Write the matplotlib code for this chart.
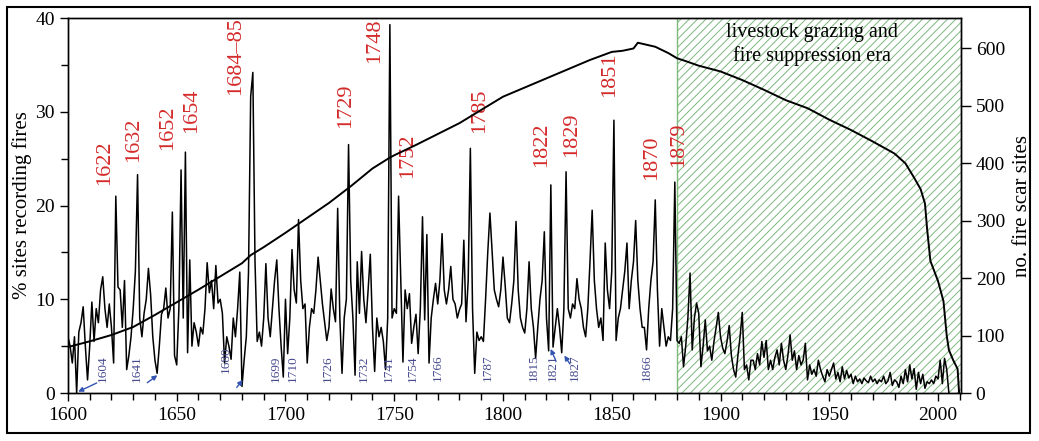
"""Fire history chart: % of sites recording fires and sample depth, 1600-2005."""

import matplotlib

matplotlib.use("Agg")
import matplotlib.pyplot as plt
import numpy as np
from matplotlib.patches import Rectangle
from matplotlib.ticker import MultipleLocator

# --- data ------------------------------------------------------------------
years = np.arange(1600, 2006)

fire_pct = [
    6, 5, 3.2, 6, 0, 6.5, 7.5, 9.2, 5, 1.4,             # 1600s
    5, 9.7, 5.5, 9, 7.5, 11, 12.4, 9, 7, 9.5,           # 1610s
    7, 3.2, 21, 11.3, 11, 7, 12, 2.5, 4, 6,             # 1620s
    9, 13, 23.3, 8, 6, 8.5, 10, 13.3, 10.5, 6,          # 1630s
    3.5, 2.1, 5, 8.4, 9, 11.2, 8, 9, 19.3, 4,           # 1640s
    3, 9, 23.8, 8, 25.7, 4.3, 14.2, 5, 7.5, 6.5,        # 1650s
    5, 7, 6.3, 9, 13.9, 10.7, 12, 9, 13.6, 9.6,         # 1660s
    10, 8.5, 3.2, 6, 5, 3.6, 8, 6, 9, 12.9,             # 1670s
    0.7, 3.5, 6, 12.8, 31.6, 34.2, 14, 5.5, 6.5, 5,     # 1680s
    8, 13.8, 8, 6, 9, 12, 14.2, 9, 5, 1.7,              # 1690s
    10, 4.2, 8, 15.3, 11, 9.6, 18.5, 12, 9, 9.5,        # 1700s
    3.2, 7, 9, 8.5, 11, 14.5, 12, 9.5, 7.5, 5.6,        # 1710s
    7, 11.1, 9, 7.6, 19.7, 8, 2.1, 8, 10, 26.5,         # 1720s
    12, 8, 1.9, 14, 8.5, 15.1, 10, 7.5, 11, 14.8,       # 1730s
    7, 2.3, 8, 6, 7, 5.5, 2.5, 8, 39.3, 8,              # 1740s
    9, 8.5, 21, 12, 3.3, 11, 9, 10.6, 5.3, 7,           # 1750s
    8.4, 4.2, 9, 18.8, 7.8, 16.9, 3.2, 8, 10, 11.7,     # 1760s
    9.5, 12, 17, 11, 9.5, 11, 13.5, 10, 9.5, 8,         # 1770s
    8.9, 9.5, 16.3, 7.6, 12, 26.1, 9, 2.1, 6.5, 5.6,    # 1780s
    6, 5.5, 10, 15, 19.2, 15, 11, 10, 9.2, 11,          # 1790s
    14.5, 11.5, 8, 7.5, 9.5, 12, 18.3, 11, 8, 7,        # 1800s
    6.4, 9, 14, 9, 7, 3.7, 7, 10, 12, 17.2,             # 1810s
    8, 4.5, 22.2, 4.9, 7, 9, 7, 4.3, 9, 23.6,           # 1820s
    9, 8, 9.5, 9, 12.2, 10, 9, 7, 6, 9,                 # 1830s
    14, 19.5, 12, 9, 7, 8, 5.6, 16, 11, 9,              # 1840s
    13, 29.1, 5.6, 8, 9, 11, 13, 16, 9, 12,             # 1850s
    14, 18.4, 12, 9, 7, 7, 4.6, 9, 12, 14,              # 1860s
    20.6, 11, 5, 9, 7, 5, 6, 5.6, 9, 22.5,              # 1870s
    5.6, 5.3, 6, 2.8, 5, 8, 12.8, 4.6, 8, 9.6,          # 1880s
    8.5, 2.8, 5, 7.8, 4.5, 5, 3.5, 5.5, 7, 8.6,         # 1890s
    6, 4.8, 4.2, 5.5, 7.2, 4, 2.5, 1.7, 4, 6,           # 1900s
    8.6, 2.5, 3, 1.4, 3.5, 3.5, 2.5, 4.2, 3, 5.5,       # 1910s
    3.8, 5.6, 2.5, 3.5, 2.5, 3.8, 4.6, 3, 5.3, 3.5,     # 1920s
    2.5, 4, 6.2, 3.5, 4.5, 2.5, 4, 3, 3.5, 5.3,         # 1930s
    1.4, 3, 2, 2.5, 1.8, 3.5, 2.5, 1.8, 1.2, 2.5,       # 1940s
    1.8, 2.5, 3.2, 1.5, 2.2, 1.2, 2.8, 1.5, 2.4, 1.6,   # 1950s
    2, 1, 1.8, 1.2, 1.5, 1, 1.6, 1.3, 1.1, 1.8,         # 1960s
    1.2, 1.5, 1, 1.4, 1.2, 1.8, 1, 1.3, 2.2, 0.8,       # 1970s
    1.4, 1.2, 0.6, 1.8, 1, 2.5, 1.2, 3, 1.5, 2.6,       # 1980s
    0.4, 2.2, 1, 2, 0.5, 1.2, 1, 1.4, 1, 1.8,           # 1990s
    1.5, 3.5, 1, 3.7, 2.5, 0,                           # 2000-2005
]

depth_years = [1600, 1610, 1620, 1630, 1640, 1650, 1660, 1670, 1680, 1684,
               1690, 1700, 1710, 1720, 1730, 1740, 1748, 1750, 1760, 1770,
               1780, 1790, 1800, 1810, 1820, 1830, 1840, 1850, 1855,
               1860, 1862, 1870, 1876, 1880, 1884, 1890, 1900, 1910, 1920,
               1930, 1940, 1950, 1960, 1970, 1980, 1985, 1989, 1992, 1994,
               1995, 1996.5, 2000, 2002.5, 2004, 2005, 2007, 2009, 2009.7]
depth_sites = [80, 90, 101, 115, 136, 158, 180, 203, 226, 240,
               254, 279, 305, 331, 360, 391, 410, 414, 432, 451,
               470, 493, 516, 532, 548, 564, 580, 594, 596,
               600, 610, 603, 592, 583, 578, 570, 560, 545, 528,
               510, 496, 476, 458, 438, 417, 400, 375, 355, 330,
               285, 230, 195, 160, 100, 75, 57, 42, 0]

peak_labels = ["1622", "1632", "1652", "1654", "1684\u201385", "1729", "1748",
               "1752", "1785", "1822", "1829", "1851", "1870", "1879"]
low_labels = ["1604", "1641", "1680", "1699", "1710", "1726", "1732", "1741",
              "1754", "1766", "1787", "1815", "1821", "1827", "1866"]

era_text = "livestock grazing and\nfire suppression era"

# --- layout ---------------------------------------------------------------
peak_xy = [(1616.7, 22.2), (1630.3, 24.6), (1645.7, 25.9), (1656.9, 27.7),
           (1677.0, 31.8), (1727.8, 28.3), (1741.2, 35.2), (1756.3, 22.9),
           (1789.4, 27.7), (1817.8, 24.1), (1831.6, 25.2), (1849.2, 31.6),
           (1868.4, 22.7), (1880.6, 24.1)]
low_x = [1615.8, 1631.7, 1672.5, 1695.6, 1703.4, 1719.5, 1736.1, 1747.6,
         1758.6, 1770.1, 1793.1, 1814.3, 1823.0, 1833.1, 1866.2]
low_y = [1.2, 1.2, 2.1, 1.2, 1.2, 1.2, 1.2, 1.2,
         1.2, 1.3, 1.3, 1.3, 1.3, 1.3, 1.3]
# little arrows pointing at the low years: (tail, head)
arrows = [((1613.2, 1.07), (1604.7, 0.14)),
          ((1636.5, 1.1), (1641.1, 1.9)),
          ((1677.6, 0.6), (1680.3, 1.4)),
          ((1824.4, 3.4), (1821.9, 4.7)),
          ((1830.8, 3.1), (1828.2, 4.0))]

RED = "#d42a2a"
BLUE = "#454a8e"
GREEN = "#7db87d"

plt.rcParams["font.family"] = ["Liberation Serif", "DejaVu Serif"]
plt.rcParams["hatch.linewidth"] = 0.7

fig = plt.figure(figsize=(10.39, 4.41), dpi=100)
ax = fig.add_axes([0.0654, 0.1088, 0.8596, 0.8503])

# shaded era
ax.axvspan(1880, 2010.6, facecolor="white", edgecolor=GREEN, hatch="////",
           linewidth=0, zorder=0)
ax.axvline(1880, color=GREEN, lw=1.0, zorder=1)

ax.plot(years, fire_pct, color="black", lw=1.1, zorder=3)

ax.set_xlim(1600, 2010.6)
ax.set_ylim(0, 40)
ax.xaxis.set_major_locator(MultipleLocator(50))
ax.xaxis.set_minor_locator(MultipleLocator(10))
ax.yaxis.set_major_locator(MultipleLocator(10))
ax.yaxis.set_minor_locator(MultipleLocator(5))
ax.tick_params(which="both", direction="out", labelsize=14, width=1)
ax.tick_params(which="major", length=6)
ax.tick_params(which="minor", length=5)
ax.tick_params(axis="x", pad=4)
ax.set_ylabel("% sites recording fires", fontsize=15, labelpad=2)

for txt, (x, y) in zip(peak_labels, peak_xy):
    ax.text(x, y, txt, color=RED, fontsize=16, rotation=90,
            ha="center", va="bottom", zorder=5)

for txt, x, y in zip(low_labels, low_x, low_y):
    ax.text(x, y, txt, color=BLUE, fontsize=9.5, rotation=90,
            ha="center", va="bottom", zorder=5)

for tail, head in arrows:
    ax.annotate("", xy=head, xytext=tail, zorder=6,
                arrowprops=dict(arrowstyle="-|>", color="#3354b0", lw=1.0,
                                mutation_scale=7, shrinkA=0, shrinkB=0))

ax.text(1942, 37.2, era_text, fontsize=14.5, ha="center", va="center",
        linespacing=1.3, zorder=5, color="black")

# sample depth on the right axis
ax2 = ax.twinx()
ax2.plot(depth_years, depth_sites, color="black", lw=1.4, zorder=4)
ax2.set_ylim(0, 653)
ax2.yaxis.set_major_locator(MultipleLocator(100))
ax2.tick_params(direction="out", length=7, width=1, labelsize=14)
ax2.set_ylabel("no. fire scar sites", fontsize=15, labelpad=6)

for a in (ax, ax2):
    for s in a.spines.values():
        s.set_linewidth(1.0)

# frame around the whole figure
fig.patches.append(Rectangle((0.0067, 0.018), 0.985, 0.966, transform=fig.transFigure,
                             fill=False, lw=1.5, ec="black"))

fig.savefig("out.png", dpi=100)
